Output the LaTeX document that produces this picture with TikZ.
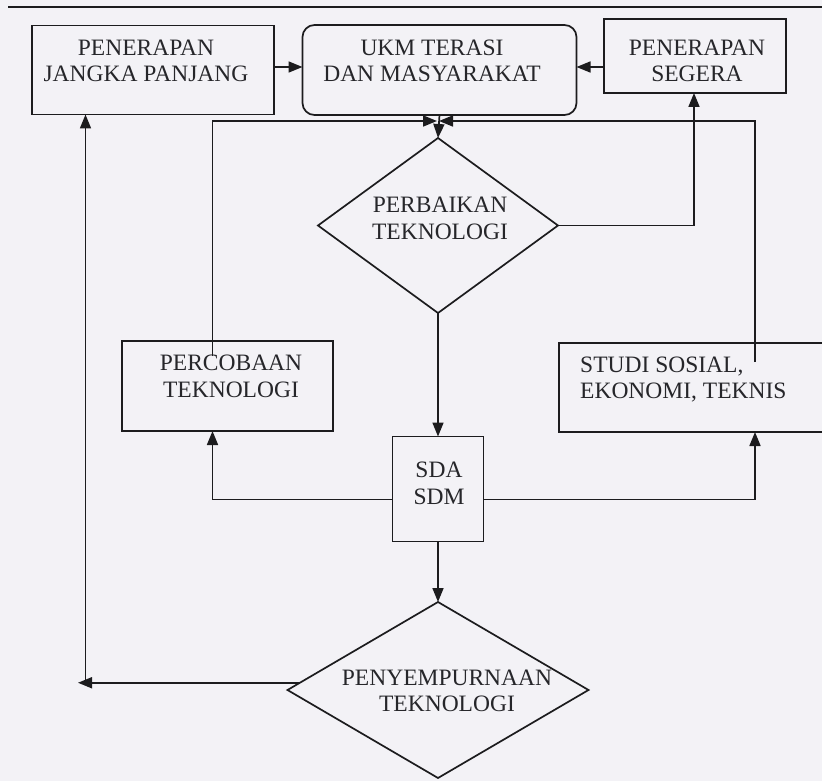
\documentclass[tikz,border=0pt]{standalone}
\usepackage{fontspec}
\setmainfont{Liberation Serif}
\usetikzlibrary{shapes.geometric,arrows.meta}
\definecolor{paper}{RGB}{243,242,246}
\definecolor{ink}{RGB}{28,28,30}
\definecolor{txt}{RGB}{38,38,42}
\begin{document}
\begin{tikzpicture}[x=1pt,y=-1pt,
  shp/.style={draw=ink, line width=1.7pt, inner sep=0pt, outer sep=0pt},
  dia/.style={shp, diamond},
  lbl/.style={text=txt, align=center, inner sep=0pt,
              font=\fontsize{23.5}{26.5}\selectfont},
  conn/.style={draw=ink, line width=1.7pt},
  arr/.style={conn, -{Triangle[length=14pt,width=11pt]}}]
\fill[paper] (0,0) rectangle (822,781);
\useasboundingbox (0,0) rectangle (822,781);
\clip (0,0) rectangle (822,781);

% top rule
\draw[ink, line width=2.6pt] (8,7) -- (822,7);

% boxes
\node[shp, minimum width=242pt, minimum height=89pt] (pjp) at (153,70) {};
\node[shp, rounded corners=12pt, minimum width=274pt, minimum height=90pt] (ukm) at (439.5,70) {};
\node[shp, minimum width=182pt, minimum height=74pt] (ps) at (695,56) {};
\node[dia, minimum width=240pt, minimum height=175pt] (perb) at (438,225.5) {};
\node[shp, minimum width=211pt, minimum height=90pt] (perc) at (227.5,386) {};
\node[shp, minimum width=301pt, minimum height=89pt] (studi) at (709.5,387.5) {};
\node[shp, minimum width=91pt, minimum height=105pt] (sda) at (438,489) {};
\node[dia, minimum width=301pt, minimum height=176pt] (pen) at (438,690) {};

% texts
\node[lbl] (pjpt) at (146,60.8) {PENERAPAN\\JANGKA PANJANG};
\node[lbl] (ukmt) at (432,60.8) {UKM TERASI\\DAN MASYARAKAT};
\node[lbl] (pst) at (697,60.8) {PENERAPAN\\SEGERA};
\node[lbl] (perbt) at (440,218.4) {PERBAIKAN\\TEKNOLOGI};
\node[lbl] (perct) at (231,376.4) {PERCOBAAN\\TEKNOLOGI};
\node[lbl, align=left, anchor=west] (studit) at (580,379.4) {STUDI SOSIAL,\\EKONOMI, TEKNIS};
\node[lbl] (sdat) at (439,483.5) {SDA\\SDM};
\node[lbl] (pent) at (447,690.7) {PENYEMPURNAAN\\TEKNOLOGI};

% helper coordinates
\coordinate (rowy) at (0,67);
\coordinate (jn) at (438,121);
\coordinate (lx) at (212.5,0);
\coordinate (rx) at (755,0);
\coordinate (psx) at (694,0);
\coordinate (sy) at (0,499.5);
\coordinate (cx) at (78,0);
\coordinate (fx) at (85.5,0);

% connectors
\draw[arr] (pjp.east |- rowy) -- (ukm.west |- rowy);
\draw[arr] (ps.west |- rowy) -- (ukm.east |- rowy);
\draw[arr] (ukm.south) -- (perb.north);
\draw[arr] ([yshift=-15pt]lx |- perc.north) -- (lx |- jn) -- ([xshift=-1pt]jn);
\draw[arr] ([yshift=-19pt]rx |- studi.north) -- (rx |- jn) -- ([xshift=1pt]jn);
\draw[arr] (perb.east) -- (psx |- perb.east) -- (psx |- ps.south);
\draw[arr] (perb.south) -- (sda.north);
\draw[arr] (sda.west |- sy) -- (lx |- sy) -- (lx |- perc.south);
\draw[arr] (sda.east |- sy) -- (rx |- sy) -- (rx |- studi.south);
\draw[arr] (sda.south) -- (pen.north);
\draw[arr] (pen.177) -- (cx |- pen.177);
\draw[arr] (fx |- pen.177) -- (fx |- pjp.south);
\end{tikzpicture}
\end{document}
